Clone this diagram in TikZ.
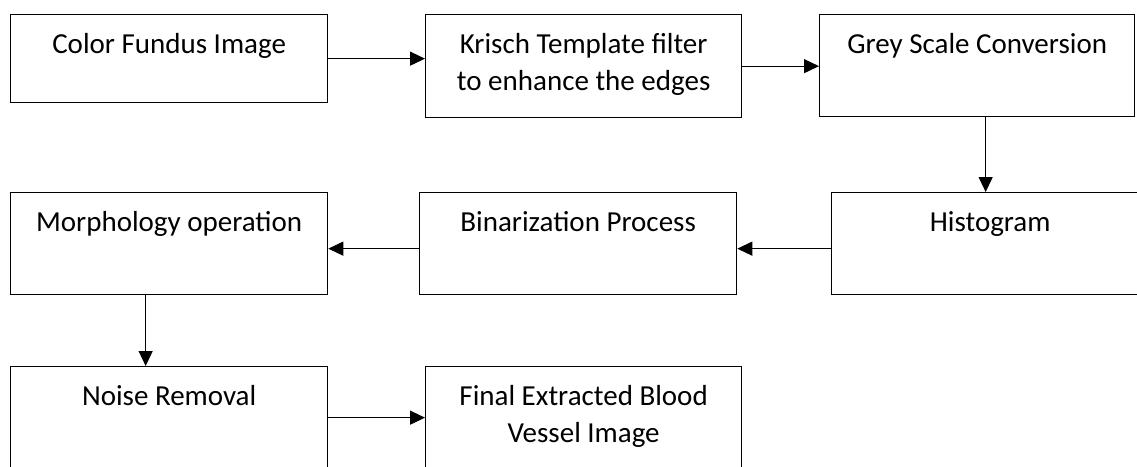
\documentclass[tikz,border=0pt]{standalone}
\usepackage{fontspec}
\setmainfont{Carlito}
\usetikzlibrary{arrows.meta,positioning,calc}

\tikzset{
  stage/.style={draw, line width=1.3pt, inner sep=0pt, minimum width=317pt,
    text height=38.5pt, text depth=63.5pt, align=center, anchor=north west,
    font=\fontsize{29}{37}\selectfont},
  flow/.style={line width=1.2pt, -{Triangle[length=15pt,width=14pt]}}
}

\begin{document}
\begin{tikzpicture}[x=1pt,y=-1pt]
  \useasboundingbox (0,0) rectangle (1137,466);

  % Top row
  \node[stage, text depth=49.5pt] (fundus) at (10,14) {Color Fundus Image};
  \node[stage, text height=75.5pt, text depth=27.5pt, minimum width=316pt] (krisch) at (425,14) {Krisch Template filter\\to enhance the edges};
  \node[stage, minimum width=315pt] (grey) at (819,14) {Grey Scale Conversion};

  % Middle row
  \node[stage] (hist) at (831,192) {Histogram};
  \node[stage] (binar) at (419,192) {Binarization Process};
  \node[stage] (morph) at (10,192) {Morphology operation};

  % Bottom row
  \node[stage] (noise) at (10,366) {Noise Removal};
  \node[stage, text height=75.5pt, text depth=26.5pt, minimum width=316pt] (final) at (425,366) {Final Extracted Blood\\Vessel Image};

  % Connectors
  \draw[flow] (fundus.east) -- (fundus.east -| krisch.west);
  \draw[flow] (krisch.east) -- (krisch.east -| grey.west);
  \draw[flow] ([xshift=8.5pt]grey.south) -- ([xshift=8.5pt]grey.south |- hist.north);
  \draw[flow] ([yshift=-5pt]hist.west) -- ([yshift=-5pt]hist.west -| binar.east);
  \draw[flow] ([yshift=-5pt]binar.west) -- ([yshift=-5pt]binar.west -| morph.east);
  \draw[flow] ([xshift=-23.5pt]morph.south) -- ([xshift=-23.5pt]morph.south |- noise.north);
  \draw[flow] (noise.east) -- (noise.east -| final.west);
\end{tikzpicture}
\end{document}
